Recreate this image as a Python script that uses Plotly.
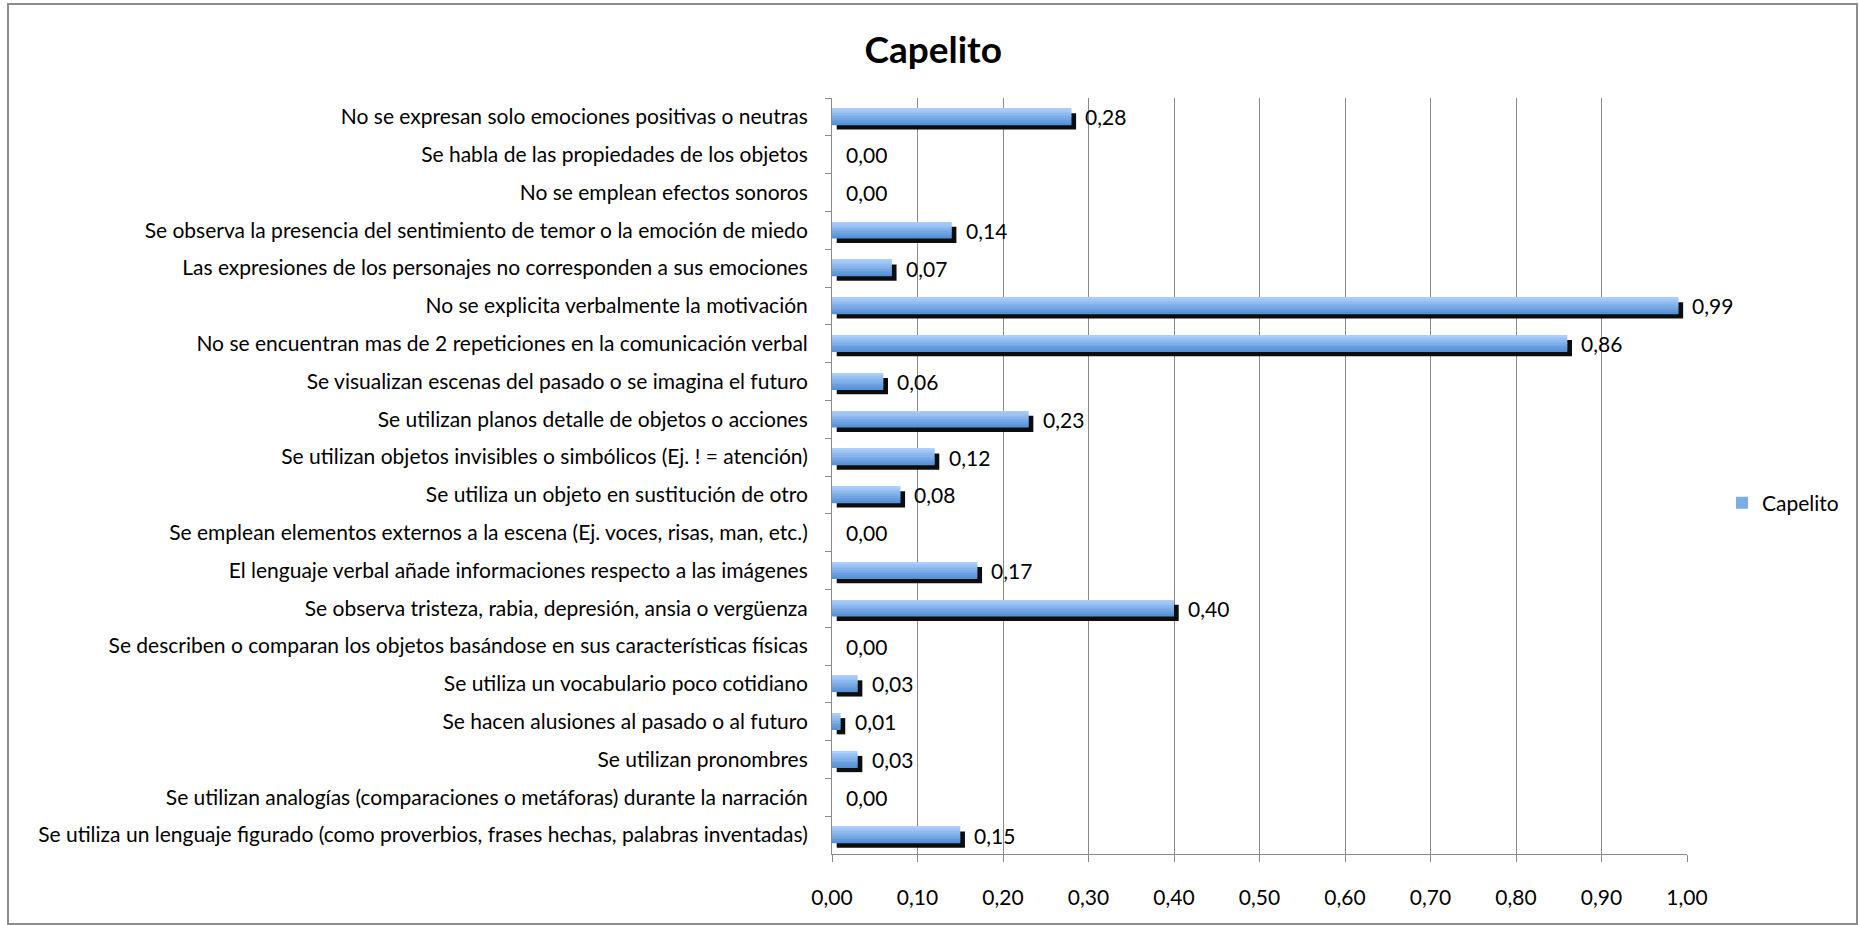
import plotly.graph_objects as go

categories = [
    "No se expresan solo emociones positivas o neutras",
    "Se habla de las propiedades de los objetos",
    "No se emplean efectos sonoros",
    "Se observa la presencia del sentimiento de temor o la emoción de miedo",
    "Las expresiones de los personajes no corresponden a sus emociones",
    "No se explicita verbalmente la motivación",
    "No se encuentran mas de 2 repeticiones en la comunicación verbal",
    "Se visualizan escenas del pasado o se imagina el futuro",
    "Se utilizan planos detalle de objetos o acciones",
    "Se utilizan objetos invisibles o simbólicos (Ej. ! = atención)",
    "Se utiliza un objeto en sustitución de otro",
    "Se emplean elementos externos a la escena (Ej. voces, risas, man, etc.)",
    "El lenguaje verbal añade informaciones respecto a las imágenes",
    "Se observa tristeza, rabia, depresión, ansia o vergüenza",
    "Se describen o comparan los objetos basándose en sus características físicas",
    "Se utiliza un vocabulario poco cotidiano",
    "Se hacen alusiones al pasado o al futuro",
    "Se utilizan pronombres",
    "Se utilizan analogías (comparaciones o metáforas) durante la narración",
    "Se utiliza un lenguaje figurado (como proverbios, frases hechas, palabras inventadas)",
]
values = [0.28, 0.00, 0.00, 0.14, 0.07, 0.99, 0.86, 0.06, 0.23, 0.12,
          0.08, 0.00, 0.17, 0.40, 0.00, 0.03, 0.01, 0.03, 0.00, 0.15]
series_name = "Capelito"
x_ticks = [0.0, 0.1, 0.2, 0.3, 0.4, 0.5, 0.6, 0.7, 0.8, 0.9, 1.0]

FONT = "Lato"
FS = 21
W = 0.43          # bar thickness (category units)
SH_DX = 0.0055    # shadow x offset (data units ~ 5px)
SH_DY = 0.12      # shadow y offset (category units ~ 5px)
N_STRIPES = 10
TOP = (172, 206, 250)
BOT = (86, 146, 216)

fig = go.Figure()

# shadow
fig.add_trace(go.Bar(
    y=categories, x=values, base=SH_DX, orientation="h",
    width=W, offset=-W / 2 + SH_DY,
    marker=dict(color="rgba(0,0,0,0.95)", line=dict(width=0)),
    showlegend=False, hoverinfo="skip"))

# gradient stripes
for i in range(N_STRIPES):
    t = i / (N_STRIPES - 1)
    c = tuple(round(TOP[k] + (BOT[k] - TOP[k]) * t) for k in range(3))
    fig.add_trace(go.Bar(
        y=categories, x=values, orientation="h",
        width=W / N_STRIPES + 0.003, offset=-W / 2 + i * W / N_STRIPES,
        marker=dict(color="rgb(%d,%d,%d)" % c, line=dict(width=0)),
        name=series_name, showlegend=(i == N_STRIPES // 2),
        legendgroup="s"))

# data labels
for cat, v in zip(categories, values):
    fig.add_annotation(x=v, y=cat, text=("%.2f" % v).replace(".", ","),
                       xanchor="left", yanchor="middle", xshift=12, showarrow=False,
                       font=dict(family=FONT, size=FS, color="black"))

fig.update_layout(
    width=1859, height=925,
    barmode="overlay",
    separators=",.",
    paper_bgcolor="white", plot_bgcolor="white",
    margin=dict(l=832, r=172, t=98, b=71),
    font=dict(family=FONT, size=FS, color="black"),
    title=dict(text="<b>Capelito</b>", x=0.502, xref="container", xanchor="center",
               y=1 - 50 / 925, yref="container", yanchor="middle",
               font=dict(family=FONT, size=37, color="black")),
    legend=dict(x=1722 / 1859, xref="container", y=1 - 503 / 925, yref="container",
                yanchor="middle", xanchor="left", font=dict(family=FONT, size=FS),
                bgcolor="rgba(0,0,0,0)", itemwidth=30),
    showlegend=True,
    shapes=[dict(type="rect", xref="paper", yref="paper",
                 x0=(8 - 832) / 855, x1=(1857 - 832) / 855,
                 y0=-(924 - 854) / 756, y1=1 + (98 - 4) / 756,
                 line=dict(color="#8c8c8c", width=2), layer="below")],
)

fig.update_xaxes(range=[0, 1], tickvals=x_ticks, tickformat=".2f",
                 showgrid=True, gridcolor="#8a8a8a", gridwidth=1,
                 showline=True, linecolor="#8a8a8a", linewidth=1,
                 ticks="outside", ticklen=7, tickcolor="#8a8a8a",
                 ticklabelstandoff=18, zeroline=False,
                 tickfont=dict(family=FONT, size=FS, color="black"))
fig.update_yaxes(autorange="reversed", type="category",
                 showgrid=False, showline=True, linecolor="#8a8a8a", linewidth=1,
                 ticks="outside", ticklen=6, tickcolor="#8a8a8a", tickson="boundaries",
                 ticklabelstandoff=19,
                 tickfont=dict(family=FONT, size=FS, color="black"))

fig.write_html("out.html", config={"displayModeBar": False},
               post_script="document.body.style.margin='0px';")
